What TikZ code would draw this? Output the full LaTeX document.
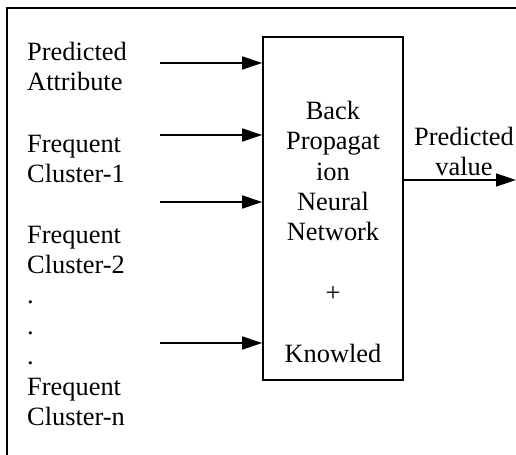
\documentclass[tikz,border=0pt]{standalone}
\usepackage{fontspec}
\setmainfont{Liberation Serif}
\usetikzlibrary{positioning,arrows.meta}

\tikzstyle{txt} = [inner sep=0pt, font=\fontsize{26.5}{30.5}\selectfont]
\tikzstyle{inputlabel} = [txt, anchor=north west, align=left]
\tikzstyle{netbox} = [draw, line width=1.6bp, minimum width=140bp,
    minimum height=343bp, inner sep=0pt]
\tikzstyle{flow} = [-{Triangle[length=20bp,width=13bp]}, line width=1.5bp]

\begin{document}
\begin{tikzpicture}[x=1bp, y=-1bp]
  \useasboundingbox (0,0) rectangle (516,455);
  \clip (0,0) rectangle (516,455);
  \draw [line width=1.6bp] (7,8) rectangle (540,480);

  \node (attr) [inputlabel] at (27,38.6) {\strut Predicted\\Attribute};
  \node (clus1) [inputlabel] at (27,130.6) {\strut Frequent\\Cluster-1};
  \node (clusn) [inputlabel] at (27,221.6)
    {\strut Frequent\\Cluster-2\\.\\.\\.\\Frequent\\Cluster-n};

  \node (bpnn) [netbox] at (333,208.5) {};
  \node (bptext) [txt, align=center, below=61.6bp of bpnn.north]
    {\strut Back\\Propagat\\ion\\Neural\\Network\\ \\+\\ \\Knowled};

  \coordinate (in1) at (160,63);
  \coordinate (in2) at (160,135);
  \coordinate (in3) at (160,202);
  \coordinate (in4) at (160,343);
  \coordinate (out) at (516,180);

  \draw [flow] (in1) -- (in1 -| bpnn.west);
  \draw [flow] (in2) -- (in2 -| bpnn.west);
  \draw [flow] (in3) -- (in3 -| bpnn.west);
  \draw [flow] (in4) -- (in4 -| bpnn.west);
  \draw [flow] (bpnn.east |- out) -- (out);

  \node (predval) [txt, align=center, anchor=north] at (464,124)
    {\strut Predicted\\value};
\end{tikzpicture}
\end{document}
